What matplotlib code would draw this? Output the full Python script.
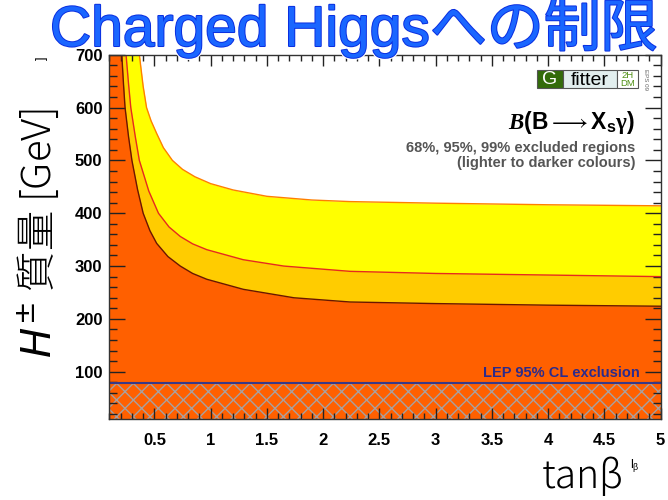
import matplotlib
matplotlib.use("Agg")
import matplotlib.pyplot as plt
import matplotlib.patheffects as pe
from matplotlib.patches import Rectangle
from matplotlib.ticker import MultipleLocator, FormatStrFormatter
import numpy as np

plt.rcParams["font.family"] = ["Liberation Sans", "Noto Sans CJK JP", "DejaVu Sans"]
plt.rcParams["hatch.linewidth"] = 1.0
plt.rcParams["mathtext.fontset"] = "custom"
plt.rcParams["mathtext.it"] = "Liberation Serif:italic:bold"
plt.rcParams["mathtext.bf"] = "Liberation Sans:bold"
plt.rcParams["mathtext.rm"] = "Liberation Serif:bold"

# plot range
XMIN, XMAX = 0.1, 5.0
YMIN, YMAX = 10.0, 700.0

# 68% CL exclusion boundary (outermost, lightest)
tanb_68 = [0.366, 0.40, 0.43, 0.47, 0.52, 0.58, 0.66, 0.75, 0.86, 1.0, 1.2, 1.5, 1.9, 2.24, 3.0, 4.0, 5.0]
mh_68 = [700, 640, 600, 575, 551, 524, 500, 483, 469, 456, 444, 432, 425, 422, 419, 416, 414]

# 95% CL exclusion boundary
tanb_95 = [0.248, 0.27, 0.29, 0.33, 0.366, 0.45, 0.536, 0.63, 0.73, 0.84, 0.966, 1.29, 1.65, 2.24, 3.0, 4.0, 5.0]
mh_95 = [700, 645, 600, 545, 500, 442, 400, 374, 356, 342, 331, 312, 300, 290, 286, 283, 280]

# 99% CL exclusion boundary (innermost, darkest)
tanb_99 = [0.21, 0.225, 0.239, 0.27, 0.30, 0.35, 0.40, 0.46, 0.52, 0.62, 0.73, 0.84, 0.966, 1.29, 1.74, 2.24, 3.0, 4.0, 5.0]
mh_99 = [700, 645, 600, 545, 500, 445, 400, 367, 343, 318, 300, 286, 275, 256, 240, 232, 229, 226, 224]

# LEP direct search limit
lep_limit = 79.3

x_ticks = [0.5, 1, 1.5, 2, 2.5, 3, 3.5, 4, 4.5, 5]

fig = plt.figure(figsize=(6.68, 5.0), dpi=100)
ax = fig.add_axes([0.1638, 0.1614, 0.8250, 0.7292])

ax.fill_between(np.r_[XMIN, tanb_68], np.r_[YMAX, mh_68], YMIN, color="#ffff00", lw=0)
ax.fill_between(np.r_[XMIN, tanb_95], np.r_[YMAX, mh_95], YMIN, color="#ffcc00", lw=0)
ax.fill_between(np.r_[XMIN, tanb_99], np.r_[YMAX, mh_99], YMIN, color="#ff6000", lw=0)
ax.plot(tanb_68, mh_68, color="#ff7f00", lw=1.0)
ax.plot(tanb_95, mh_95, color="#e62a1e", lw=1.0)
ax.plot(tanb_99, mh_99, color="#6a1600", lw=1.0)

ax.fill_between([XMIN, XMAX], [lep_limit, lep_limit], YMIN, facecolor="#ff6000",
                edgecolor="#a8a0a0", hatch="xx", lw=0)
ax.axhline(lep_limit, color="#3a3a86", lw=1.5)
ax.text(0.963, 0.128, "LEP 95% CL exclusion", transform=ax.transAxes, ha="right",
        va="center", fontsize=10.5, fontweight="bold", color="#2b2b8c")

ax.set_xlim(XMIN, XMAX)
ax.set_ylim(YMIN, YMAX)
ax.set_xticks(x_ticks)
ax.xaxis.set_major_formatter(FormatStrFormatter("%g"))
ax.xaxis.set_minor_locator(MultipleLocator(0.1))
ax.yaxis.set_major_locator(MultipleLocator(100))
ax.yaxis.set_minor_locator(MultipleLocator(20))
ax.tick_params(which="both", direction="in", top=True, right=True, color="#222222")
ax.tick_params(axis="y", which="major", length=11.5, width=1.0, pad=5,
               labelsize=12)
ax.tick_params(axis="y", which="minor", length=6, width=1.0)
ax.tick_params(axis="x", which="major", length=8, width=1.0, pad=10,
               labelsize=12)
ax.tick_params(axis="x", which="minor", length=4, width=1.0)
for lab in ax.get_xticklabels() + ax.get_yticklabels():
    lab.set_fontweight("bold")
for sp in ax.spines.values():
    sp.set_color("#333333")
    sp.set_linewidth(1.0)

# Gfitter logo
logo_boxes = [(0.776, 0.047, "#336b0a"), (0.823, 0.098, "#e2eeee"), (0.921, 0.038, "#ffffff")]
for x0, w, fc in logo_boxes:
    ax.add_patch(Rectangle((x0, 0.909), w, 0.048, transform=ax.transAxes,
                           facecolor=fc, edgecolor="#555555", lw=0.8, zorder=5))
ax.text(0.7995, 0.932, "G", transform=ax.transAxes, ha="center", va="center",
        fontsize=14, color="white", zorder=6)
ax.text(0.872, 0.930, "fitter", transform=ax.transAxes, ha="center", va="center",
        fontsize=14, color="black", zorder=6)
ax.text(0.940, 0.944, "2H", transform=ax.transAxes, ha="center", va="center",
        fontsize=6.8, color="#4f8f14", zorder=6)
ax.text(0.940, 0.921, "DM", transform=ax.transAxes, ha="center", va="center",
        fontsize=6.8, color="#4f8f14", zorder=6)
ax.text(0.972, 0.933, "EPS 09", transform=ax.transAxes, ha="center", va="center",
        fontsize=4.5, color="#666666", rotation=-90, zorder=6)

ax.text(0.954, 0.815, r"$\mathit{B}\mathbf{(B} \longrightarrow \mathbf{X_s}\mathrm{\gamma}\mathbf{)}$",
        transform=ax.transAxes, ha="right", va="center", fontsize=16.5, color="black")
ax.text(0.954, 0.744, "68%, 95%, 99% excluded regions", transform=ax.transAxes,
        ha="right", va="center", fontsize=10.5, fontweight="bold", color="#555555")
ax.text(0.954, 0.702, "(lighter to darker colours)", transform=ax.transAxes,
        ha="right", va="center", fontsize=10.5, fontweight="bold", color="#555555")

# headings and axis titles
fig.text(0.53, 0.943, "Charged Higgsへの制限", ha="center", va="center",
         fontsize=41, color="#1a66ff", family=["Liberation Sans", "Noto Sans CJK JP"],
         path_effects=[pe.Stroke(linewidth=3.0, foreground="white"),
                       pe.Stroke(linewidth=1.4, foreground="#0a2ee0"), pe.Normal()])
fig.text(0.057, 0.534, r"$H^{\pm}$ 質量 [GeV]", rotation=90, ha="center", va="center",
         fontsize=29, fontweight="light", family=["Noto Sans CJK JP", "DejaVu Sans"],
         math_fontfamily="dejavusans")
fig.text(0.063, 0.884, "]", rotation=90, ha="center", va="center", fontsize=9)
fig.text(0.873, 0.045, "tanβ", ha="center", va="center", fontsize=28,
         fontweight="light", family=["Noto Sans CJK JP", "DejaVu Sans"])
fig.text(0.951, 0.068, r"$\mathregular{l_{\beta}}$", ha="center", va="center", fontsize=9)

fig.savefig("out.png", dpi=100)
